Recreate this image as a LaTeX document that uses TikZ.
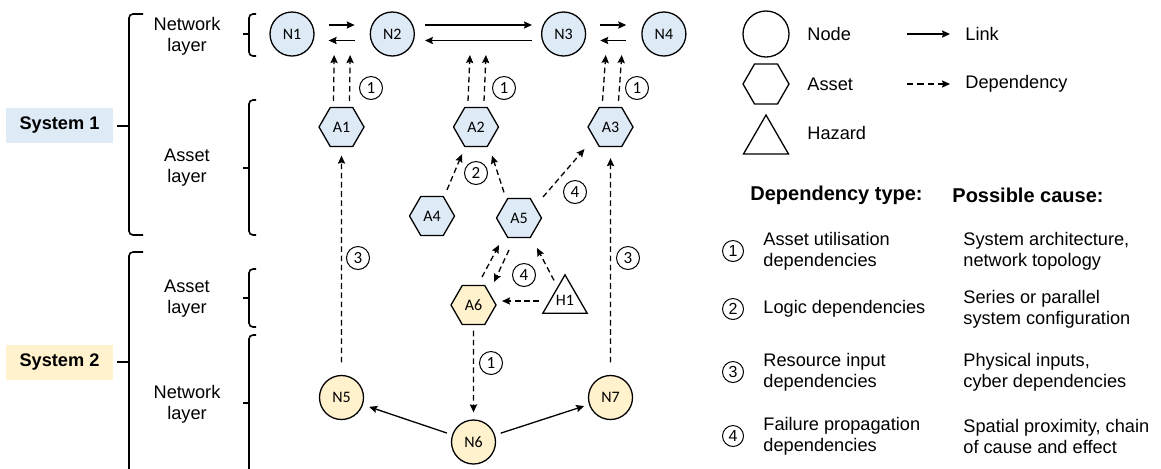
\documentclass[tikz,border=0pt]{standalone}
\usepackage{fontspec}
\setmainfont{Liberation Sans}
\newfontfamily\nodefont{Carlito}
\usepackage{xcolor}
\usetikzlibrary{arrows.meta, positioning, shapes.geometric, calc}

\definecolor{sysblue}{HTML}{DEEBF7}
\definecolor{sysyellow}{HTML}{FFF2CC}

\begin{document}
\begin{tikzpicture}[x=0.5pt, y=-0.5pt, font=\fontsize{9.1}{10.5}\selectfont]
    % Styles
    \tikzstyle{netnode} = [circle, draw, line width=0.65pt, minimum size=22pt, inner sep=0pt, font=\nodefont\fontsize{8}{9}\selectfont]
    \tikzstyle{asset} = [regular polygon, regular polygon sides=6, draw, line width=0.65pt, minimum size=22.5pt, inner sep=0pt, font=\nodefont\fontsize{8}{9}\selectfont]
    \tikzstyle{hazard} = [regular polygon, regular polygon sides=3, draw, line width=0.65pt, minimum size=25.4pt, inner sep=0pt, font=\nodefont\fontsize{8}{9}\selectfont]
    \tikzstyle{sysbox} = [minimum width=53.5pt, minimum height=17.5pt, font=\bfseries\fontsize{9.1}{10.5}\selectfont]
    \tikzstyle{layer} = [align=center, inner sep=0pt]
    \tikzstyle{brace} = [line width=0.8pt, rounded corners=2pt]
    \tikzstyle{link} = [-{Stealth[length=4pt, width=3.6pt, inset=0.6pt]}, line width=0.65pt]
    \tikzstyle{dep} = [link, dash pattern=on 2.8pt off 1.8pt]
    \tikzstyle{num} = [circle, draw, line width=0.5pt, minimum size=11.5pt, inner sep=0pt, font=\nodefont\fontsize{8.5}{9}\selectfont]
    \tikzstyle{lgnum} = [circle, draw, line width=0.5pt, minimum size=10.5pt, inner sep=0pt, font=\fontsize{8}{8}\selectfont]
    \tikzstyle{lgtext} = [anchor=west, align=left, inner sep=0pt]

    \useasboundingbox (0,0) rectangle (1161,468);

    % Systems and layers
    \node[sysbox, fill=sysblue] (sys1) at (59.5,125.5) {System 1};
    \node[sysbox, fill=sysyellow] (sys2) at (59.5,362.5) {System 2};

    \node[layer] (net1) at (187,36) {Network\\layer};
    \node[layer] (ast1) at (187,168) {Asset\\layer};
    \node[layer] (ast2) at (187,299) {Asset\\layer};
    \node[layer] (net2) at (187,404) {Network\\layer};

    % Brackets
    \draw[brace] (143,14) -| (129,235) -- (143,235);
    \draw[brace] (129,126) -- (117,126);
    \draw[brace] (143,252) -| (129,480);
    \draw[brace] (129,362) -- (117,362);

    \draw[brace] (256,14) -| (249,56) -- (256,56);
    \draw[brace] (249,34) -- (243,34);
    \draw[brace] (256,100) -| (249,235) -- (256,235);
    \draw[brace] (249,168) -- (243,168);
    \draw[brace] (256,269) -| (249,327) -- (256,327);
    \draw[brace] (249,298) -- (243,298);
    \draw[brace] (256,335) -| (249,480);
    \draw[brace] (249,403) -- (243,403);

    % Network layer, system 1
    \node[netnode, fill=sysblue] (N1) at (292,34) {N1};
    \node[netnode, fill=sysblue, right=27.5pt of N1] (N2) {N2};
    \node[netnode, fill=sysblue, right=63pt of N2] (N3) {N3};
    \node[netnode, fill=sysblue, right=27.5pt of N3] (N4) {N4};

    % Asset layer, system 1
    \node[asset, fill=sysblue] (A1) at (341.5,127) {A1};
    \node[asset, fill=sysblue] (A2) at (476,127) {A2};
    \node[asset, fill=sysblue] (A3) at (610.5,127) {A3};
    \node[asset, fill=sysblue] (A4) at (432,216) {A4};
    \node[asset, fill=sysblue] (A5) at (519,218) {A5};

    % System 2
    \node[asset, fill=sysyellow] (A6) at (473.5,305) {A6};
    \node[hazard] (H1) at (565,300.4) {H1};
    \node[netnode, fill=sysyellow] (N5) at (341.5,397.5) {N5};
    \node[netnode, fill=sysyellow] (N6) at (473.5,442) {N6};
    \node[netnode, fill=sysyellow] (N7) at (610.5,397.5) {N7};

    % Links
    \draw[link] ($(N1.east)+(14,-9)$) -- ($(N2.west)+(-15,-9)$);
    \draw[link] ($(N2.west)+(-15,6.5)$) -- ($(N1.east)+(14,6.5)$);
    \draw[link] ($(N2.east)+(10,-9)$) -- ($(N3.west)+(-9,-9)$);
    \draw[link] ($(N3.west)+(-9,6.5)$) -- ($(N2.east)+(10,6.5)$);
    \draw[link] ($(N3.east)+(14,-9)$) -- ($(N4.west)+(-15,-9)$);
    \draw[link] ($(N4.west)+(-15,6.5)$) -- ($(N3.east)+(14,6.5)$);
    \draw[link, shorten <=2.75pt, shorten >=3.3pt] (N6) -- (N5);
    \draw[link, shorten <=3pt, shorten >=2.5pt] (N6) -- (N7);

    % Link ends used by the assets
    \coordinate (L12) at ($(N1)!0.5!(N2)+(0,21)$);
    \coordinate (L23) at ($(N2)!0.5!(N3)+(0,21)$);
    \coordinate (L34) at ($(N3)!0.5!(N4)+(0,21)$);

    % Dependencies
    \draw[dep] ([xshift=-4pt,yshift=3pt]A1.north) -- ([xshift=-4pt]L12);
    \draw[dep] ([xshift=4pt,yshift=3pt]A1.north) -- ([xshift=4pt]L12);
    \draw[dep] ([xshift=-4pt,yshift=3pt]A2.north) -- ([xshift=-4pt]L23);
    \draw[dep] ([xshift=4pt,yshift=3pt]A2.north) -- ([xshift=4pt]L23);
    \draw[dep] ([xshift=-4pt,yshift=3pt]A3.north) -- ([xshift=-4pt]L34);
    \draw[dep] ([xshift=4pt,yshift=3pt]A3.north) -- ([xshift=4pt]L34);

    \draw[dep] ($(A4.north)+(15,-6)$) -- ($(A2.south)+(-14,7)$);
    \draw[dep] ($(A5.north)+(-15,-5.5)$) -- ($(A2.south)+(16,8.5)$);
    \draw[dep] ($(A5)+(24,-21)$) -- ($(A3)+(-26,22)$);

    \draw[dep] ([yshift=6.25pt]N5.north) -- ([yshift=-4.25pt]A1.south);
    \draw[dep] ([yshift=6.25pt]N7.north) -- ([yshift=-5.5pt]A3.south);

    \draw[dep] ($(A6)+(8.5,-28)$) -- ($(A5)+(-20,27)$);
    \draw[dep] ($(A5)+(-10,32)$) -- ($(A6)+(20.5,-23)$);
    \draw[dep] ($(H1)+(-11,-20)$) -- ($(A5)+(18,30)$);
    \draw[dep] ($(H1)+(-26,0.6)$) -- ($(A6)+(28.5,-4)$);
    \draw[dep] ([yshift=-2.75pt]A6.south) -- ([yshift=3.5pt]N6.north);

    % Dependency types
    \node[num] (u1) at (371,88) {1};
    \node[num] (u2) at (504,88) {1};
    \node[num] (u3) at (637,88) {1};
    \node[num] (u4) at (491,363) {1};
    \node[num] (g1) at (476,173) {2};
    \node[num] (r1) at (358,258) {3};
    \node[num] (r2) at (628,258) {3};
    \node[num] (f1) at (575,192) {4};
    \node[num] (f2) at (524,275) {4};

    % Legend
    \node[netnode, minimum size=23pt] (lgNode) at (766,34) {};
    \node[asset, minimum size=23pt] (lgAsset) at (766,84) {};
    \node[hazard, minimum size=26pt] (lgHazard) at (766,141) {};
    \node[lgtext] (lgNodeTxt) at (807,34) {Node};
    \node[lgtext] (lgAssetTxt) at (807,84) {Asset};
    \node[lgtext] (lgHazardTxt) at (807,133) {Hazard};
    \node[lgtext] (lgLink) at (965,34) {Link};
    \node[lgtext] (lgDep) at (965,84) {Dependency};
    \draw[link] ($(lgLink.west)+(-58,0)$) -- ($(lgLink.west)+(-15,0)$);
    \draw[dep, dash pattern=on 3.2pt off 2pt] ($(lgDep.west)+(-58,0)$) -- ($(lgDep.west)+(-15,0)$);

    \node[lgtext, font=\bfseries] (hdType) at (750,195) {Dependency type:};
    \node[lgtext, font=\bfseries] (hdCause) at (952,195) {Possible cause:};

    \node[lgnum] (t1) at (733,251) {1};
    \node[lgtext] (t1name) at (763,251) {Asset utilisation\\dependencies};
    \node[lgtext] (t1cause) at (963,251) {System architecture,\\network topology};
    \node[lgnum] (t2) at (733,309) {2};
    \node[lgtext] (t2name) at (763,309) {Logic dependencies};
    \node[lgtext] (t2cause) at (963,309) {Series or parallel\\system configuration};
    \node[lgnum] (t3) at (733,372) {3};
    \node[lgtext] (t3name) at (763,372) {Resource input\\dependencies};
    \node[lgtext] (t3cause) at (963,372) {Physical inputs,\\cyber dependencies};
    \node[lgnum] (t4) at (733,436) {4};
    \node[lgtext] (t4name) at (763,436) {Failure propagation\\dependencies};
    \node[lgtext] (t4cause) at (963,436) {Spatial proximity, chain\\of cause and effect};
\end{tikzpicture}
\end{document}
